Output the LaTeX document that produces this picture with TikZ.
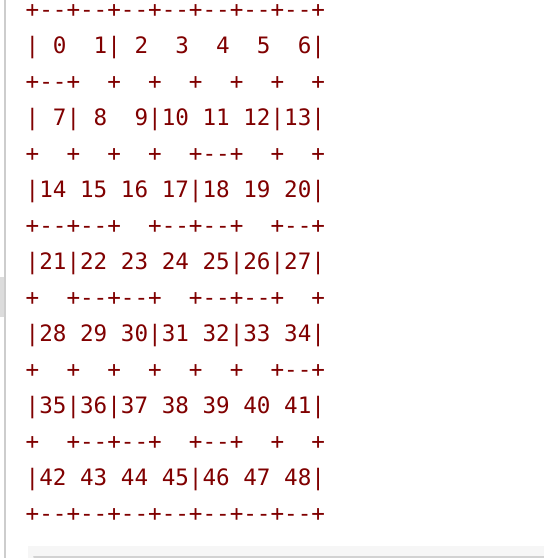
\documentclass[tikz,border=0pt]{standalone}
\usepackage{fontspec}
\setmonofont{DejaVu Sans Mono}
\usepackage{tikz}
\usetikzlibrary{positioning}
\definecolor{mazered}{RGB}{128,0,0}
\definecolor{panelgray}{RGB}{205,205,205}
\definecolor{stripgray}{RGB}{246,246,246}
\tikzset{
    % One printed row of the maze (monospace, dark red)
    mazeline/.style={
        anchor=base west, inner sep=0pt, text=mazered,
        font=\ttfamily\fontsize{22.6}{36}\selectfont
    },
    % Page furniture around the output
    sidebar/.style={line width=2pt, panelgray},
    scrollmark/.style={fill=panelgray!70},
    bottomstrip/.style={fill=stripgray},
    bottomedge/.style={line width=2pt, panelgray!90, line cap=round},
}

\begin{document}
\begin{tikzpicture}[x=1pt,y=-1pt]
  \useasboundingbox[fill=white] (0,0) rectangle (544,558);
  % frame of the output pane
  \fill[scrollmark] (0,277) rectangle (4,317);
  \draw[sidebar] (5,0) -- (5,558);
  \fill[bottomstrip] (28,546) rectangle (544,558);
  \draw[bottomedge] (34,557) -- (544,557);
  % the maze, row by row
  \foreach \txt [count=\k from 0] in {
      {+--+--+--+--+--+--+--+},
      {|~0~~1|~2~~3~~4~~5~~6|},
      {+--+~~+~~+~~+~~+~~+~~+},
      {|~7|~8~~9|10~11~12|13|},
      {+~~+~~+~~+~~+--+~~+~~+},
      {|14~15~16~17|18~19~20|},
      {+--+--+~~+--+--+~~+--+},
      {|21|22~23~24~25|26|27|},
      {+~~+--+--+~~+--+--+~~+},
      {|28~29~30|31~32|33~34|},
      {+~~+~~+~~+~~+~~+~~+--+},
      {|35|36|37~38~39~40~41|},
      {+~~+--+--+~~+--+~~+~~+},
      {|42~43~44~45|46~47~48|},
      {+--+--+--+--+--+--+--+}}
    \node[mazeline] (row\k) at (25.5,{17+36*\k}) {\txt};
\end{tikzpicture}
\end{document}
